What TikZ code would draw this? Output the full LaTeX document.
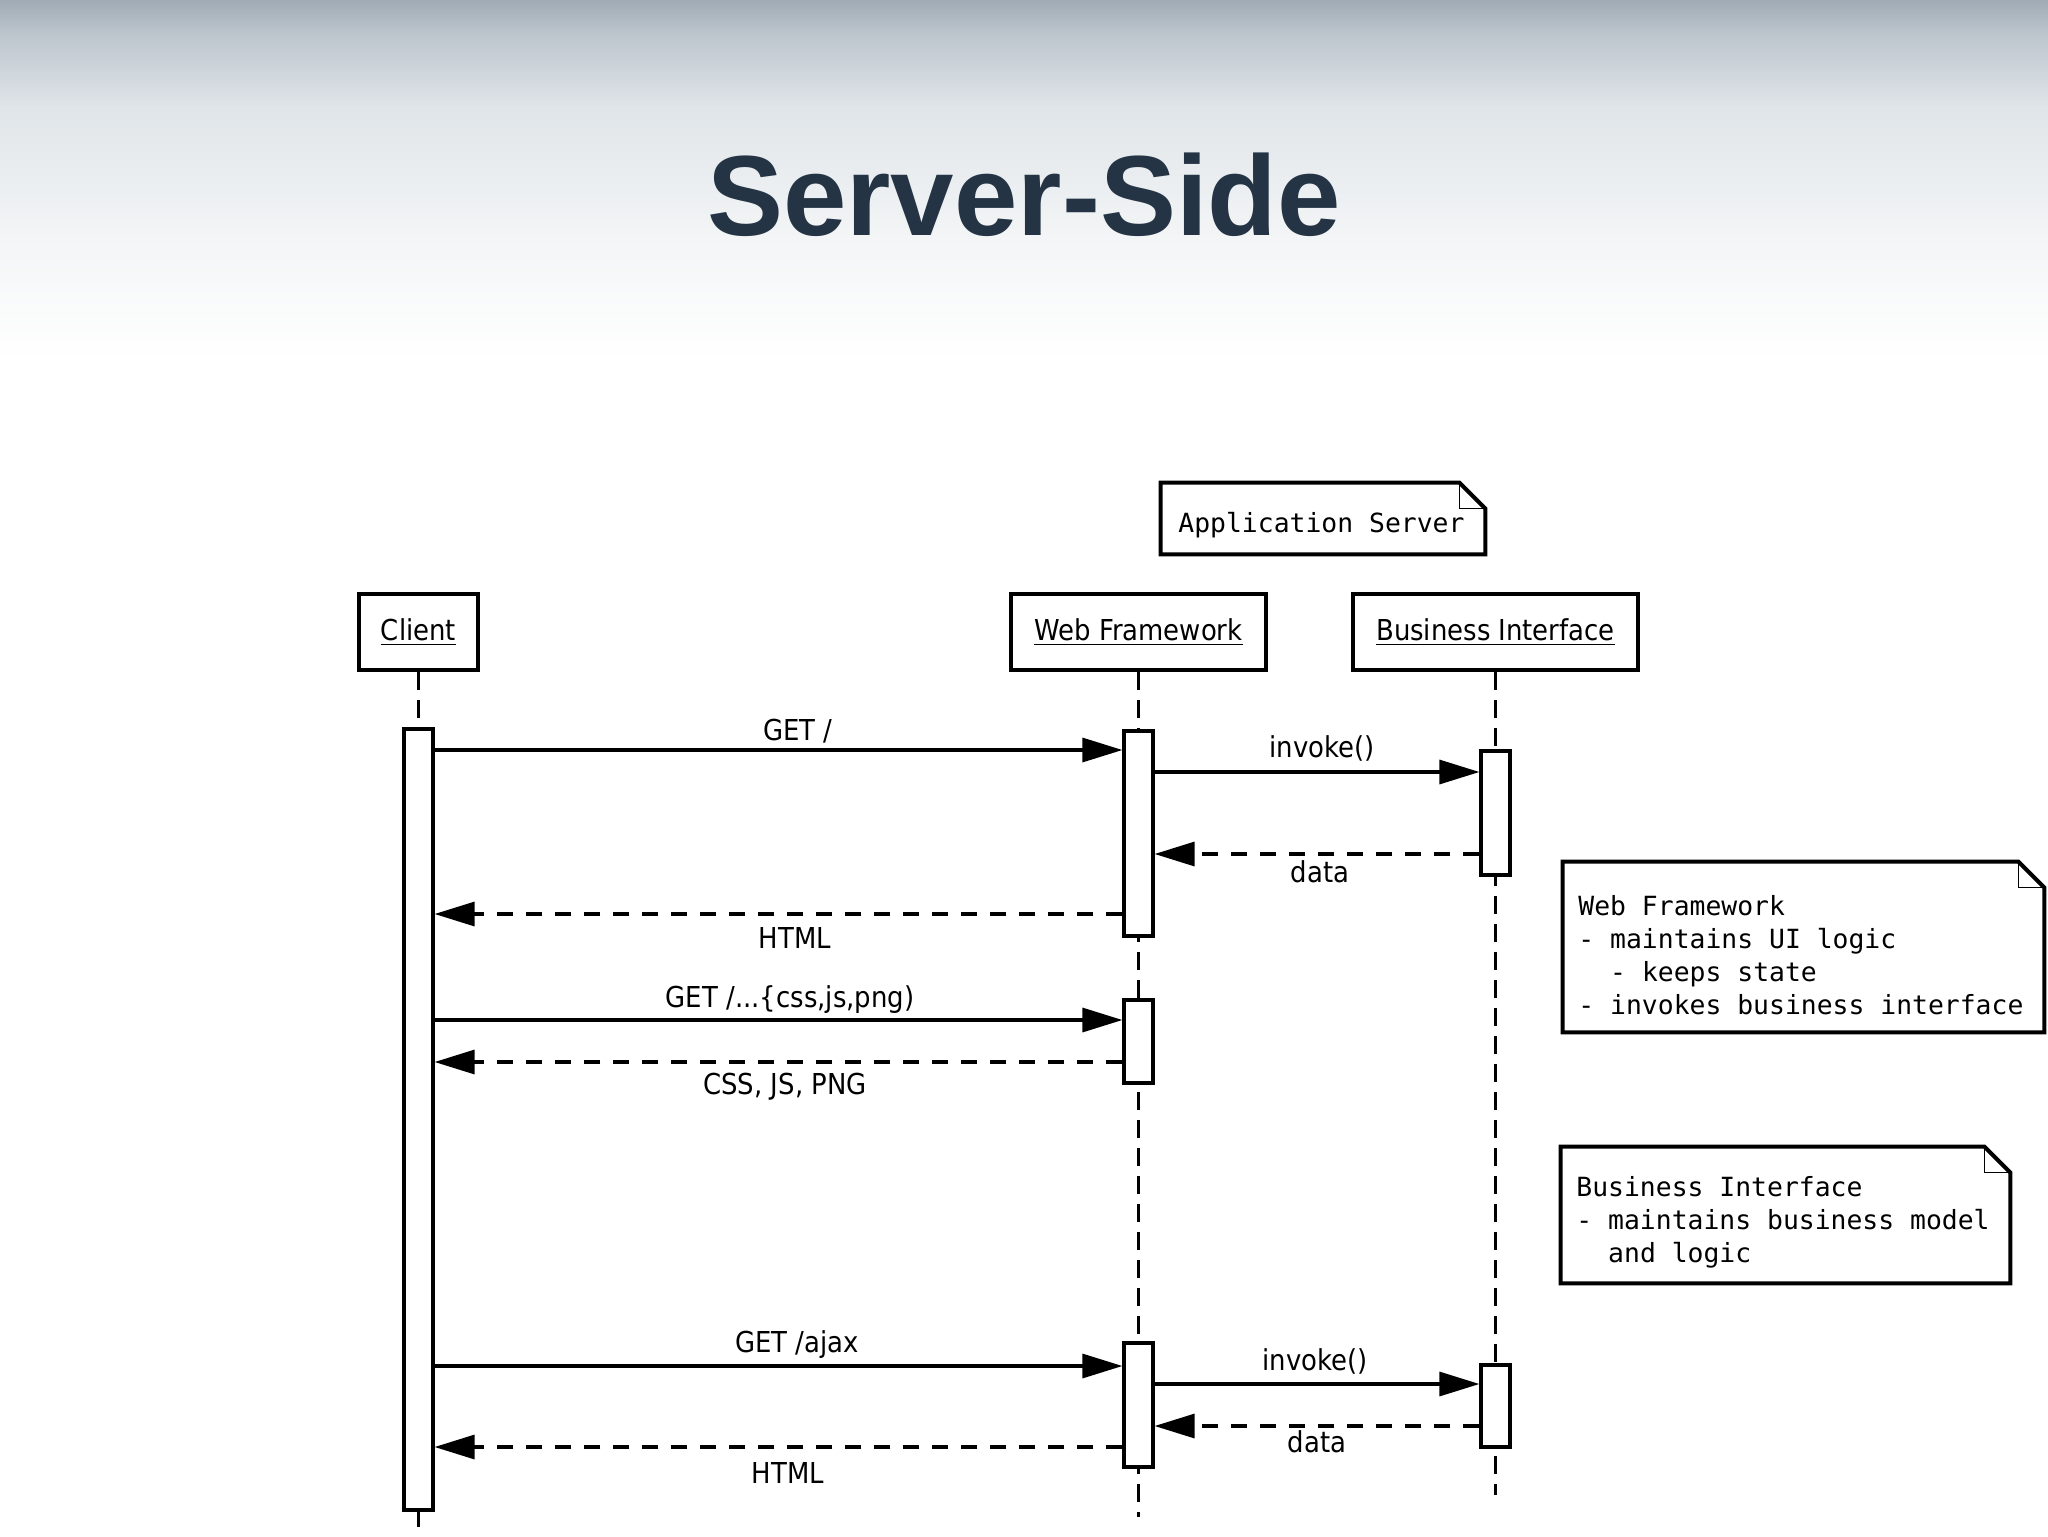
\documentclass[tikz,border=0pt]{standalone}
\usepackage{fontspec}
\setmainfont{DejaVu Sans}
\newfontfamily\labfont[FakeStretch=0.9]{DejaVu Sans}
\newfontfamily\notefont{DejaVu Sans Mono}
\newfontfamily\titlefont{Liberation Sans}
\usetikzlibrary{arrows.meta,calc}
\definecolor{titlecol}{RGB}{37,52,69}
\definecolor{bgtop}{RGB}{160,171,181}
\definecolor{bgup}{RGB}{190,199,206}
\definecolor{bgmid}{RGB}{224,229,233}
\definecolor{bglow}{RGB}{243,245,246}
\pgfdeclareverticalshading{bgshade}{100bp}{color(0bp)=(white); color(25bp)=(white); color(42bp)=(bglow); color(60bp)=(bgmid); color(70bp)=(bgup); color(75bp)=(bgtop); color(100bp)=(bgtop)}
\newcommand\drawnote[1]{%
  \draw[noteline] (#1.north west) -- ([xshift=-13pt]#1.north east) -- ([yshift=-13pt]#1.north east) -- (#1.south east) -- (#1.south west) -- cycle;
  \draw[notefold] ([xshift=-13pt]#1.north east) |- ([yshift=-13pt]#1.north east);}
\begin{document}
\begin{tikzpicture}[x=0.5pt,y=-0.5pt,
  head/.style={draw, line width=2pt, fill=white, inner sep=0pt, font=\labfont\fontsize{14.4}{17}\selectfont},
  act/.style={draw, line width=1.6pt, fill=white, inner sep=0pt, minimum width=14.5pt},
  life/.style={line width=1.1pt, dash pattern=on 9pt off 5pt},
  msg/.style={line width=1.6pt, -{Triangle[length=20pt,width=12pt]}},
  ret/.style={msg, dash pattern=on 8pt off 6.5pt},
  lab/.style={inner sep=0pt, font=\labfont\fontsize{14.4}{17}\selectfont},
  notebox/.style={inner sep=0pt},
  noteline/.style={line width=2pt, line join=miter, fill=white},
  notefold/.style={line width=0.8pt},
  notetext/.style={inner sep=0pt, align=left, font=\notefont\fontsize{13.2}{16.5}\selectfont},
]
\useasboundingbox (0,0) rectangle (2048,1536);
\fill[white] (0,0) rectangle (2048,1536);
\shade[shading=bgshade] (0,0) rectangle (2048,360);

\node[anchor=base, text=titlecol, inner sep=0pt, font=\titlefont\bfseries\fontsize{57}{60}\selectfont] (title) at (1024,235) {Server-Side};

% application server note
\node[notebox, minimum width=162pt, minimum height=35.5pt] (appn) at (1323,518.5) {};
\drawnote{appn}
\node[notetext, anchor=west] (appt) at (1178,525) {Application Server};

% headers
\node[head, minimum width=59.5pt, minimum height=38pt] (client) at (418.5,632) {\underline{Client}};
\node[head, minimum width=127.5pt, minimum height=38pt] (wf) at (1138.5,632) {\underline{Web Framework}};
\node[head, minimum width=142.5pt, minimum height=38pt] (bi) at (1495.5,632) {\underline{Business Interface}};

% lifelines
\coordinate (clend) at (418.5,1527);
\coordinate (wfend) at (1138.5,1517);
\coordinate (biend) at (1495.5,1495);
\draw[life] (client) -- (clend);
\draw[life] (wf) -- (wfend);
\draw[life] (bi) -- (biend);

% activation bars
\node[act, minimum height=390.5pt] (cb) at (418.5,1119.5) {};
\node[act, minimum height=102.5pt] (wb1) at (1138.5,833.5) {};
\node[act, minimum height=41.5pt] (wb2) at (1138.5,1041.5) {};
\node[act, minimum height=62pt] (wb3) at (1138.5,1405) {};
\node[act, minimum height=62pt] (bb1) at (1495.5,813) {};
\node[act, minimum height=41pt] (bb2) at (1495.5,1406) {};

% messages
\draw[msg] (cb.east |- 0,750) -- (wb1.west |- 0,750);
\draw[msg] (wb1.east |- 0,772) -- (bb1.west |- 0,772);
\draw[ret] (bb1.west |- 0,854) -- (wb1.east |- 0,854);
\draw[ret] (wb1.west |- 0,914) -- (cb.east |- 0,914);
\draw[msg] (cb.east |- 0,1020) -- (wb2.west |- 0,1020);
\draw[ret] (wb2.west |- 0,1062) -- (cb.east |- 0,1062);
\draw[msg] (cb.east |- 0,1366) -- (wb3.west |- 0,1366);
\draw[msg] (wb3.east |- 0,1384) -- (bb2.west |- 0,1384);
\draw[ret] (bb2.west |- 0,1426) -- (wb3.east |- 0,1426);
\draw[ret] (wb3.west |- 0,1447) -- (cb.east |- 0,1447);

% labels
\node[lab] (l1) at (798,731) {GET /};
\node[lab] (l2) at (1322,748) {invoke()};
\node[lab] (l3) at (1320,872) {data};
\node[lab] (l4) at (795,938) {HTML};
\node[lab] (l5) at (790,1000) {GET /...\{css,js,png)};
\node[lab] (l6) at (785,1087) {CSS, JS, PNG};
\node[lab] (l7) at (797,1345) {GET /ajax};
\node[lab] (l8) at (1315,1361) {invoke()};
\node[lab] (l9) at (1317,1442) {data};
\node[lab] (l10) at (788,1473) {HTML};

% notes
\node[notebox, minimum width=240.5pt, minimum height=85pt] (wfn) at (1803.5,947) {};
\drawnote{wfn}
\node[notetext, anchor=west] (wft) at (1578,955) {Web Framework\\- maintains UI logic\\\hphantom{--}- keeps state\\- invokes business interface};

\node[notebox, minimum width=224.5pt, minimum height=68pt] (bin) at (1785.5,1215) {};
\drawnote{bin}
\node[notetext, anchor=west] (bit) at (1576,1222) {Business Interface\\- maintains business model\\\hphantom{--}and logic};
\end{tikzpicture}
\end{document}
